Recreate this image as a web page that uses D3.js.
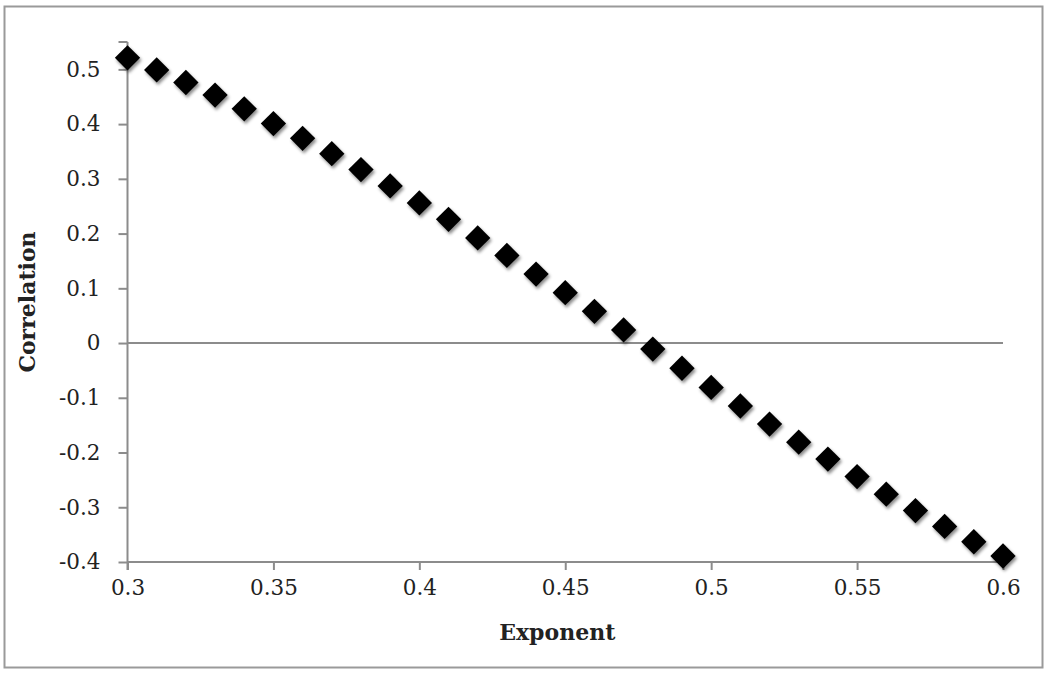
<!DOCTYPE html>
<html>
<head>
<meta charset="utf-8">
<script src="https://cdn.jsdelivr.net/npm/d3@7"></script>
<style>
  body { margin: 0; background: #fff; }
  text { font-family: "DejaVu Serif", "Liberation Serif", serif; fill: #222; }
</style>
</head>
<body>
<div class="canvas"></div>
<script>
// data
const exponents = [0.30, 0.31, 0.32, 0.33, 0.34, 0.35, 0.36, 0.37, 0.38, 0.39, 0.40,
  0.41, 0.42, 0.43, 0.44, 0.45, 0.46, 0.47, 0.48, 0.49, 0.50,
  0.51, 0.52, 0.53, 0.54, 0.55, 0.56, 0.57, 0.58, 0.59, 0.60];
const correlations = [0.521, 0.499, 0.476, 0.453, 0.428, 0.401, 0.374, 0.346, 0.317, 0.287, 0.256,
  0.226, 0.192, 0.160, 0.126, 0.092, 0.058, 0.024, -0.011, -0.046, -0.081,
  -0.115, -0.148, -0.181, -0.212, -0.244, -0.276, -0.306, -0.335, -0.363, -0.389];
const xTicks = [0.3, 0.35, 0.4, 0.45, 0.5, 0.55, 0.6];
const yTicks = [-0.4, -0.3, -0.2, -0.1, 0, 0.1, 0.2, 0.3, 0.4, 0.5];

const dims = { width: 1050, height: 673 };
const plot = { left: 127.5, right: 1003, top: 42, bottom: 562 };
const axisGrey = "#8c8c8c";

// plain hyphen for negatives, like the original
const fmt = d => d3.format("~g")(d).replace("\u2212", "-");

const svg = d3.select(".canvas")
  .append("svg")
  .attr("width", dims.width)
  .attr("height", dims.height);

// soft drop shadow under the markers
const filter = svg.append("defs").append("filter")
  .attr("id", "shadow")
  .attr("x", "-50%").attr("y", "-50%")
  .attr("width", "200%").attr("height", "200%");
filter.append("feDropShadow")
  .attr("dx", 1.5).attr("dy", 2.5)
  .attr("stdDeviation", 1.6)
  .attr("flood-color", "#000")
  .attr("flood-opacity", 0.45);

// outer frame
svg.append("rect")
  .attr("x", 4.5).attr("y", 6.5)
  .attr("width", 1038).attr("height", 661)
  .attr("fill", "none")
  .attr("stroke", "#9a9a9a")
  .attr("stroke-width", 2);

const x = d3.scaleLinear().domain([0.3, 0.6]).range([plot.left, plot.right]);
const y = d3.scaleLinear().domain([-0.4, 0.55]).range([plot.bottom, plot.top]);

//x axis
const xAxis = svg.append("g")
  .attr("transform", `translate(0, ${plot.bottom})`)
  .call(d3.axisBottom(x).tickValues(xTicks).tickSize(8).tickPadding(10)
    .tickFormat(fmt));
xAxis.select(".domain").remove();
xAxis.selectAll("line").attr("stroke", axisGrey).attr("stroke-width", 2);
xAxis.selectAll("text").attr("font-size", 21.5).attr("font-family", null);

//y axis
const yAxis = svg.append("g")
  .attr("transform", `translate(${plot.left}, 0)`)
  .call(d3.axisLeft(y).tickValues(yTicks).tickSize(9).tickPadding(18)
    .tickFormat(fmt));
yAxis.select(".domain").remove();
yAxis.selectAll("line").attr("stroke", axisGrey).attr("stroke-width", 2);
yAxis.selectAll("text").attr("font-size", 21.5).attr("font-family", null);

// axis lines + top tick
svg.append("line")
  .attr("x1", plot.left).attr("x2", plot.left)
  .attr("y1", y(0.55)).attr("y2", y(-0.4) + 8)
  .attr("stroke", axisGrey).attr("stroke-width", 2);
svg.append("line")
  .attr("x1", plot.left - 9).attr("x2", plot.left)
  .attr("y1", y(0.55)).attr("y2", y(0.55))
  .attr("stroke", axisGrey).attr("stroke-width", 2);
svg.append("line")
  .attr("x1", plot.left).attr("x2", plot.right)
  .attr("y1", y(-0.4)).attr("y2", y(-0.4))
  .attr("stroke", axisGrey).attr("stroke-width", 2);

// zero line
svg.append("line")
  .attr("x1", plot.left).attr("x2", plot.right)
  .attr("y1", y(0)).attr("y2", y(0))
  .attr("stroke", axisGrey).attr("stroke-width", 2);

// axis titles
svg.append("text")
  .attr("x", (plot.left + plot.right) / 2 - 8)
  .attr("y", 640)
  .attr("text-anchor", "middle")
  .attr("font-size", 22)
  .attr("font-weight", "bold")
  .text("Exponent");

svg.append("text")
  .attr("transform", `translate(35, ${(plot.top + plot.bottom) / 2}) rotate(-90)`)
  .attr("text-anchor", "middle")
  .attr("font-size", 22)
  .attr("font-weight", "bold")
  .text("Correlation");

// diamonds
const data = exponents.map((e, i) => ({ exp: e, corr: correlations[i] }));
const diamond = d3.symbol().type(d3.symbolSquare).size(320);

svg.append("g")
  .attr("filter", "url(#shadow)")
  .selectAll("path")
  .data(data)
  .enter()
  .append("path")
  .attr("d", diamond)
  .attr("transform", d => `translate(${x(d.exp)}, ${y(d.corr)}) rotate(45)`)
  .attr("fill", "#000");
</script>
</body>
</html>
